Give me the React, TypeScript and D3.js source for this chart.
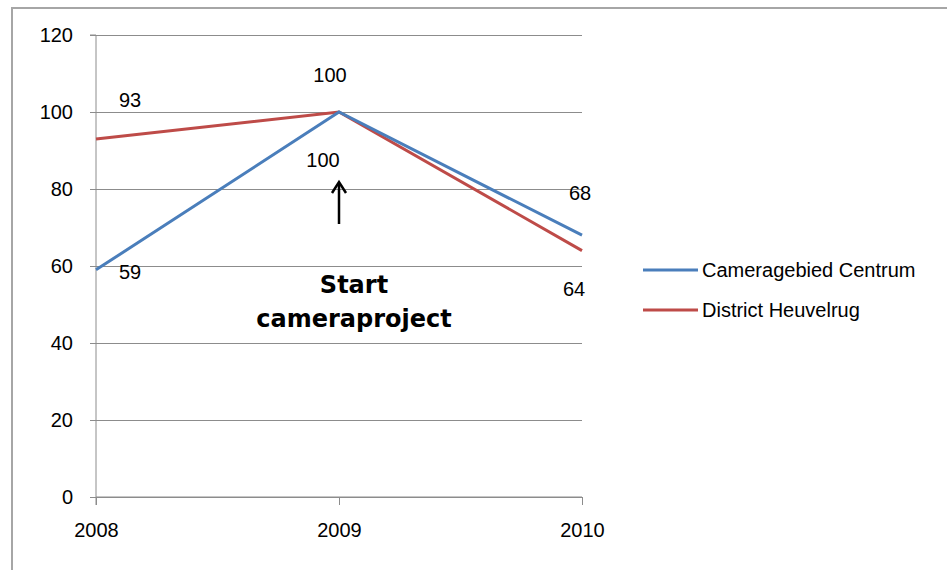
import React, { useEffect, useRef } from 'react'
import * as d3 from 'd3'

// chart data
const years = ['2008', '2009', '2010']
const cameraValues = [59, 100, 68]
const districtValues = [93, 100, 64]
const seriesNames = ['Cameragebied Centrum', 'District Heuvelrug']
const yTicks = [0, 20, 40, 60, 80, 100, 120]
const annotation = ['Start', 'cameraproject']

const W = 947
const H = 570
const FONT = 'Liberation Sans, Arial, sans-serif'
const BOLD_FONT = 'DejaVu Sans, Verdana, sans-serif'

export default function App() {
    const ref = useRef<SVGSVGElement>(null)

    useEffect(() => {
        const svg = d3.select(ref.current)
        svg.selectAll('*').remove()

        const margin = { top: 35, left: 96, right: 365, bottom: 73 }

        const x = d3.scalePoint<string>().domain(years).range([margin.left, W - margin.right])
        const y = d3.scaleLinear().domain([0, 120]).range([H - margin.bottom, margin.top])

        // outer frame
        svg.append('rect')
            .attr('x', 12).attr('y', 8)
            .attr('width', W - 12 + 5).attr('height', H)
            .attr('fill', 'white')
            .attr('stroke', '#a6a6a6')
            .attr('stroke-width', 2)

        // horizontal grid
        svg.append('g')
            .attr('transform', `translate(${margin.left},0)`)
            .call(d3.axisLeft(y).tickValues(yTicks).tickSize(-(W - margin.right - margin.left)).tickFormat(() => ''))
            .call(g => g.select('.domain').remove())
            .selectAll('line').attr('stroke', '#8c8c8c').attr('stroke-width', 1)

        // y axis
        const yAxis = svg.append('g')
            .attr('transform', `translate(${margin.left},0)`)
            .call(d3.axisLeft(y).tickValues(yTicks).tickSize(6).tickPadding(17))
        yAxis.select('.domain').attr('stroke', '#8c8c8c').attr('d', `M-6,${y(120)}H0V${y(0) + 8}`)
        yAxis.selectAll('line').attr('stroke', '#8c8c8c')
        yAxis.selectAll('text').attr('font-family', FONT).attr('font-size', 20).attr('fill', '#000')

        // x axis
        const xAxis = svg.append('g')
            .attr('transform', `translate(0,${y(0)})`)
            .call(d3.axisBottom(x).tickSize(8).tickPadding(18))
        xAxis.select('.domain').attr('stroke', '#8c8c8c').attr('d', `M${margin.left},0H${W - margin.right}`)
        xAxis.selectAll('line').attr('stroke', '#8c8c8c')
        xAxis.selectAll('text').attr('font-family', FONT).attr('font-size', 20).attr('fill', '#000')

        const series = [
            { name: seriesNames[0], values: cameraValues, color: '#4a7ebb', offsets: [[34, 2], [-16, 48], [-2, -42]] },
            { name: seriesNames[1], values: districtValues, color: '#be4b48', offsets: [[34, -39], [-9, -37], [-8, 38]] },
        ]

        const line = d3.line<number>()
            .x((_, i) => x(years[i]) as number)
            .y(d => y(d))

        // red first so blue sits on top like in the original
        series.slice().reverse().forEach(s => {
            svg.append('path')
                .datum(s.values)
                .attr('d', line)
                .attr('fill', 'none')
                .attr('stroke', s.color)
                .attr('stroke-width', 3)
        })

        series.forEach(s => {
            svg.append('g').selectAll('text')
                .data(s.values)
                .enter()
                .append('text')
                .attr('x', (_, i) => (x(years[i]) as number) + s.offsets[i][0])
                .attr('y', (d, i) => y(d) + s.offsets[i][1])
                .attr('dy', '0.35em')
                .attr('text-anchor', 'middle')
                .attr('font-family', FONT)
                .attr('font-size', 20)
                .text(d => d)
        })

        // arrow annotation
        const ax = x('2009') as number
        svg.append('line')
            .attr('x1', ax).attr('x2', ax)
            .attr('y1', 184).attr('y2', 224)
            .attr('stroke', '#000').attr('stroke-width', 2.5)
        svg.append('path')
            .attr('d', `M${ax - 7},${193}L${ax},${182}L${ax + 7},${193}`)
            .attr('fill', 'none').attr('stroke', '#000').attr('stroke-width', 2.5)

        svg.append('g').selectAll('text')
            .data(annotation)
            .enter()
            .append('text')
            .attr('x', ax + 15)
            .attr('y', (_, i) => 293 + i * 34)
            .attr('text-anchor', 'middle')
            .attr('font-family', BOLD_FONT)
            .attr('font-weight', 'bold')
            .attr('font-size', 24)
            .text(d => d)

        // legend
        const legend = svg.append('g').attr('transform', 'translate(643,270)')
        series.forEach((s, i) => {
            const g = legend.append('g').attr('transform', `translate(0,${i * 40})`)
            g.append('line').attr('x1', 0).attr('x2', 55).attr('stroke', s.color).attr('stroke-width', 3)
            g.append('text')
                .attr('x', 59).attr('dy', '0.35em')
                .attr('font-family', FONT).attr('font-size', 20)
                .text(s.name)
        })
    }, [])

    return (
        <svg ref={ref} width={W} height={H}
            style={{ position: 'absolute', left: 0, top: 0, background: 'white' }} />
    )
}
